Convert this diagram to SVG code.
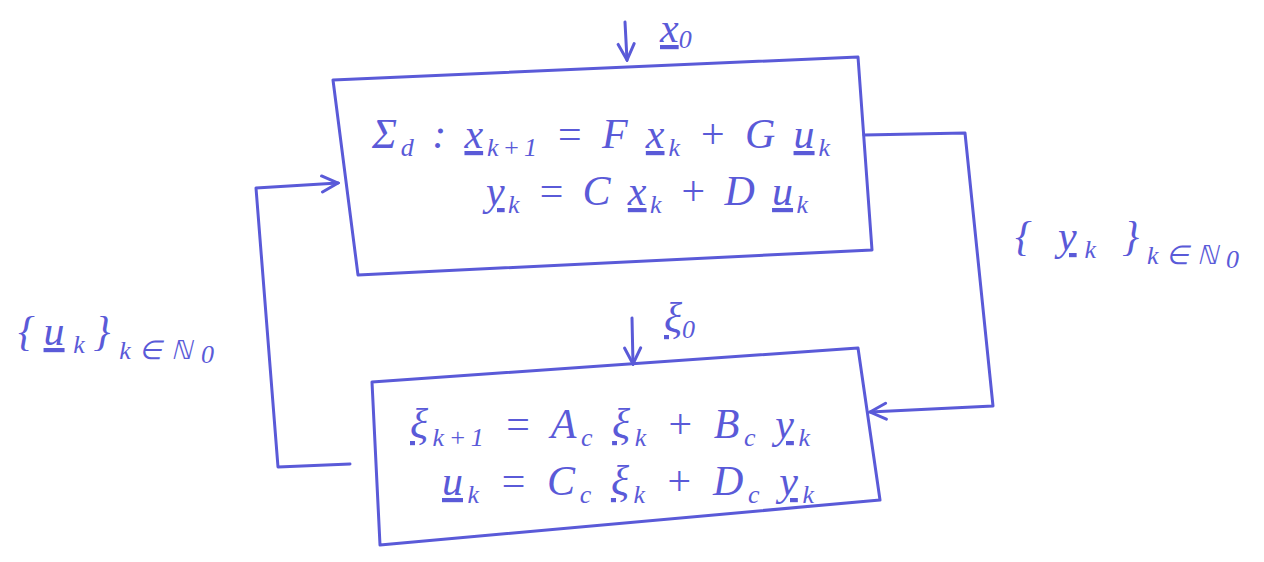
<svg xmlns="http://www.w3.org/2000/svg" width="1264" height="562" viewBox="0 0 1264 562">
<style>
.ln{fill:none;stroke:#5a5ad8;stroke-width:3;stroke-linecap:round;stroke-linejoin:round}
.t{font-family:"Liberation Serif",serif;font-style:italic;fill:#5a5ad8;font-size:42px}
.s{font-size:26px}
.v{text-decoration:underline;text-decoration-skip-ink:none}
</style>
<defs>
<marker id="ah" viewBox="0 0 20 20" refX="18" refY="10" markerWidth="20" markerHeight="20" markerUnits="userSpaceOnUse" orient="auto">
<path d="M2,2 L18,10 L2,18" fill="none" stroke="#5a5ad8" stroke-width="3" stroke-linecap="round"/>
</marker>
</defs>
<rect width="1264" height="562" fill="#fff"/>
<g id="plant">
<polygon class="ln" points="333,80 858,57 872,250 358,275"/>
<text class="t" x="372" y="148" textLength="458" lengthAdjust="spacing">Σ<tspan class="s" dy="8">d</tspan><tspan dy="-8"> :  </tspan><tspan class="v">x</tspan><tspan class="s" dy="8">k+1</tspan><tspan dy="-8"> = F </tspan><tspan class="v">x</tspan><tspan class="s" dy="8">k</tspan><tspan dy="-8"> + G </tspan><tspan class="v">u</tspan><tspan class="s" dy="8">k</tspan></text>
<text class="t" x="486" y="205" textLength="322" lengthAdjust="spacing"><tspan class="v">y</tspan><tspan class="s" dy="8">k</tspan><tspan dy="-8"> = C </tspan><tspan class="v">x</tspan><tspan class="s" dy="8">k</tspan><tspan dy="-8"> + D </tspan><tspan class="v">u</tspan><tspan class="s" dy="8">k</tspan></text>
</g>
<g id="controller">
<polygon class="ln" points="372,382 858,348 880,500 380,545"/>
<text class="t" x="410" y="438" textLength="400" lengthAdjust="spacing"><tspan class="v">ξ</tspan><tspan class="s" dy="8">k+1</tspan><tspan dy="-8"> = A</tspan><tspan class="s" dy="8">c</tspan><tspan dy="-8"> </tspan><tspan class="v">ξ</tspan><tspan class="s" dy="8">k</tspan><tspan dy="-8"> + B</tspan><tspan class="s" dy="8">c</tspan><tspan dy="-8">  </tspan><tspan class="v">y</tspan><tspan class="s" dy="8">k</tspan></text>
<text class="t" x="442" y="495" textLength="372" lengthAdjust="spacing"><tspan class="v">u</tspan><tspan class="s" dy="8">k</tspan><tspan dy="-8"> = C</tspan><tspan class="s" dy="8">c</tspan><tspan dy="-8"> </tspan><tspan class="v">ξ</tspan><tspan class="s" dy="8">k</tspan><tspan dy="-8"> + D</tspan><tspan class="s" dy="8">c</tspan><tspan dy="-8">  </tspan><tspan class="v">y</tspan><tspan class="s" dy="8">k</tspan></text>
</g>
<g id="connectors">
<line class="ln" x1="625" y1="22" x2="627" y2="60" marker-end="url(#ah)"/>
<line class="ln" x1="632" y1="318" x2="633" y2="364" marker-end="url(#ah)"/>
<polyline class="ln" points="350,464 278,467 256,188 338,183" marker-end="url(#ah)"/>
<polyline class="ln" points="864,135 965,133 993,406 870,412" marker-end="url(#ah)"/>
</g>
<g id="labels">
<text class="t" x="660" y="42"><tspan class="v">x</tspan><tspan class="s" dy="6">0</tspan></text>
<text class="t" x="664" y="332"><tspan class="v">ξ</tspan><tspan class="s" dy="6">0</tspan></text>
<text class="t" x="18" y="345" textLength="196" lengthAdjust="spacing">{<tspan class="v">u</tspan><tspan class="s" dy="8">k</tspan><tspan dy="-8">}</tspan><tspan class="s" dy="14">k∈ℕ</tspan><tspan class="s" dy="4" font-size="18">0</tspan></text>
<text class="t" x="1015" y="250" textLength="224" lengthAdjust="spacing">{ <tspan class="v">y</tspan><tspan class="s" dy="8">k</tspan><tspan dy="-8"> }</tspan><tspan class="s" dy="14">k∈ℕ</tspan><tspan class="s" dy="4" font-size="18">0</tspan></text>
</g>
</svg>
